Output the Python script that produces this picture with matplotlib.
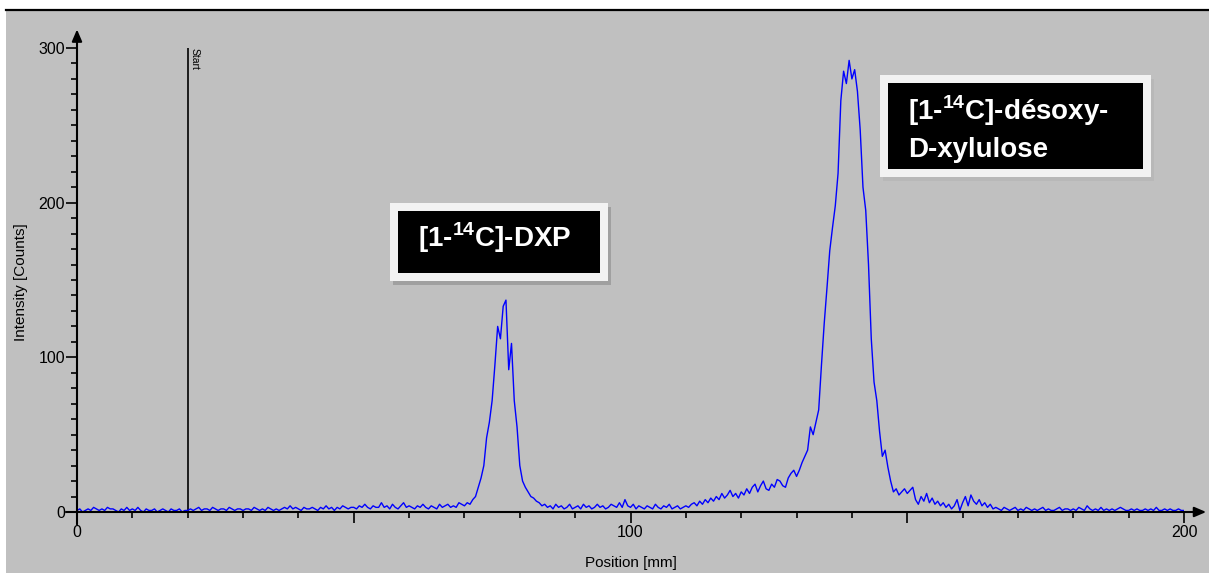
import numpy as np
import matplotlib
matplotlib.use("Agg")
import matplotlib.pyplot as plt
from matplotlib.patches import Rectangle
from matplotlib.lines import Line2D

plt.rcParams["font.family"] = ["Liberation Sans", "DejaVu Sans"]
plt.rcParams["mathtext.fontset"] = "custom"
plt.rcParams["mathtext.rm"] = "Liberation Sans:bold"
plt.rcParams["mathtext.bf"] = "Liberation Sans:bold"

W, H = 1209, 573

# radio-TLC scan, 0.5 mm steps from 0 to 200 mm
position = np.arange(0, 200.5, 0.5)
counts = [
    1, 2, 0, 1, 2, 1, 3, 2, 1, 2, 1, 3, 2, 2, 1, 0, 2, 1, 3, 1,
    2, 1, 3, 1, 0, 2, 1, 1, 2, 0, 1, 2, 1, 0, 2, 1, 1, 2, 0, 1,
    1, 2, 1, 2, 3, 1, 2, 2, 1, 3, 2, 1, 2, 2, 1, 3, 2, 1, 2, 2,
    1, 2, 2, 1, 3, 2, 1, 2, 1, 3, 2, 1, 2, 1, 2, 3, 2, 4, 2, 3,
    2, 1, 3, 2, 2, 3, 2, 1, 3, 2, 4, 2, 3, 1, 3, 2, 4, 3, 2, 3,
    3, 2, 4, 3, 5, 3, 2, 4, 3, 3, 6, 3, 4, 2, 5, 3, 2, 4, 6, 3,
    4, 3, 2, 4, 3, 5, 3, 2, 4, 3, 2, 5, 3, 4, 5, 3, 4, 3, 6, 5,
    4, 6, 5, 8, 10, 16, 22, 30, 48, 58, 72, 95, 120, 112, 133, 137, 92, 109, 72, 55,
    30, 20, 16, 13, 10, 9, 7, 6, 4, 5, 3, 4, 2, 5, 3, 4, 2, 3, 5, 2,
    3, 4, 2, 5, 3, 4, 2, 3, 5, 3, 4, 2, 3, 5, 4, 3, 6, 3, 8, 4,
    3, 5, 2, 4, 3, 2, 4, 3, 2, 5, 3, 2, 4, 3, 5, 2, 3, 4, 2, 3,
    4, 3, 5, 6, 4, 7, 5, 8, 6, 9, 7, 10, 8, 12, 9, 11, 14, 10, 12, 9,
    13, 11, 15, 12, 16, 18, 13, 17, 20, 15, 14, 18, 16, 21, 20, 17, 16, 22, 25, 27,
    23, 27, 32, 36, 40, 55, 50, 58, 66, 95, 122, 145, 169, 184, 198, 219, 266, 285, 277, 292,
    280, 286, 272, 247, 210, 195, 160, 112, 84, 72, 52, 36, 40, 29, 20, 13, 15, 11, 13, 15,
    12, 14, 16, 8, 5, 10, 7, 12, 6, 9, 5, 7, 4, 6, 3, 5, 2, 4, 8, 1,
    6, 10, 4, 11, 7, 5, 8, 4, 6, 3, 5, 2, 3, 2, 1, 3, 2, 1, 2, 3,
    1, 2, 1, 3, 2, 1, 2, 1, 2, 3, 1, 2, 1, 1, 2, 3, 1, 2, 2, 1,
    2, 1, 3, 2, 1, 4, 2, 1, 2, 1, 3, 1, 2, 1, 2, 1, 2, 3, 2, 1,
    1, 2, 1, 2, 1, 1, 2, 1, 2, 1, 3, 1, 1, 2, 1, 2, 1, 1, 2, 1,
    1,
]
start_pos = 20
x_labels = [0, 100, 200]
y_labels = [0, 100, 200, 300]
peak_labels = [r"[1-$^{14}$C]-DXP", r"[1-$^{14}$C]-désoxy-" + "\n" + "D-xylulose"]


def fx(px):
    return px / W


def fy(py):
    return 1 - py / H


fig = plt.figure(figsize=(W / 100, H / 100), dpi=100, facecolor="white")

# grey panel with black top border
fig.add_artist(Rectangle((fx(6), 0), 1 - fx(6), fy(10), transform=fig.transFigure,
                         facecolor="#c0c0c0", edgecolor="none", zorder=-5))
fig.add_artist(Line2D([fx(6), 1], [fy(9.5), fy(9.5)], transform=fig.transFigure,
                      color="black", lw=1.6, zorder=-4))

ax = fig.add_axes([fx(77), fy(512), (1184 - 77) / W, (512 - 48) / H])
ax.patch.set_visible(False)
ax.set_xlim(0, 200)
ax.set_ylim(0, 300)
for s in ax.spines.values():
    s.set_visible(False)

ax.plot(position, counts, color="#0000ff", lw=1.0, zorder=3)

# start line
ax.plot([start_pos, start_pos], [0, 300], color="black", lw=1.2, zorder=2)
ax.text(start_pos + 0.4, 300, "Start", rotation=-90, ha="left", va="top",
        fontsize=7.5, color="black")

# axes with arrows
ax.annotate("", xy=(0, 312), xytext=(0, -8), annotation_clip=False,
            arrowprops=dict(arrowstyle="-|>,head_length=0.7,head_width=0.3",
                            color="black", lw=1.5, shrinkA=0, shrinkB=0))
ax.annotate("", xy=(204, 0), xytext=(-2, 0), annotation_clip=False,
            arrowprops=dict(arrowstyle="-|>,head_length=0.7,head_width=0.3",
                            color="black", lw=1.5, shrinkA=0, shrinkB=0))

ax.set_xticks([0, 50, 100, 150, 200])
ax.set_xticklabels([str(v) if v in x_labels else "" for v in [0, 50, 100, 150, 200]])
ax.set_xticks(np.arange(0, 201, 10), minor=True)
ax.set_yticks(y_labels)
ax.set_yticklabels([str(v) for v in y_labels])
ax.set_yticks(np.arange(0, 301, 10), minor=True)
ax.tick_params(axis="x", which="major", direction="out", length=8, width=1.2,
               pad=1.5, labelsize=11.5)
ax.tick_params(axis="x", which="minor", direction="out", length=4, width=1.2)
ax.tick_params(axis="y", which="major", direction="out", length=8, width=1.2,
               pad=0.5, labelsize=11.5)
ax.tick_params(axis="y", which="minor", direction="out", length=4, width=1.2)

fig.text(fx(631), fy(563), "Position [mm]", ha="center", va="center", fontsize=11)
fig.text(fx(21), fy(282), "Intensity [Counts]", ha="center", va="center",
         rotation=90, fontsize=11)


def label_box(x0, y0, x1, y1, shadow, tx, ty, text):
    fig.add_artist(Rectangle((fx(x0 + 3), fy(y1 + 4)), (x1 - x0) / W, (y1 - y0) / H,
                             transform=fig.transFigure, facecolor=shadow,
                             edgecolor="none", zorder=5))
    fig.add_artist(Rectangle((fx(x0), fy(y1)), (x1 - x0) / W, (y1 - y0) / H,
                             transform=fig.transFigure, facecolor="#f2f2f2",
                             edgecolor="none", zorder=6))
    fig.add_artist(Rectangle((fx(x0 + 8), fy(y1 - 8)), (x1 - x0 - 16) / W,
                             (y1 - y0 - 16) / H, transform=fig.transFigure,
                             facecolor="black", edgecolor="none", zorder=7))
    fig.text(fx(tx), fy(ty), text, ha="left", va="baseline", color="white",
             fontsize=20, fontweight="bold", linespacing=1.45, zorder=8)


label_box(390, 203, 608, 281, "#a0a0a0", 418, 247, peak_labels[0])
label_box(880, 75, 1151, 177, "#b8b8b8", 908, 157, peak_labels[1])

fig.savefig("out.png", dpi=100, facecolor="white")
